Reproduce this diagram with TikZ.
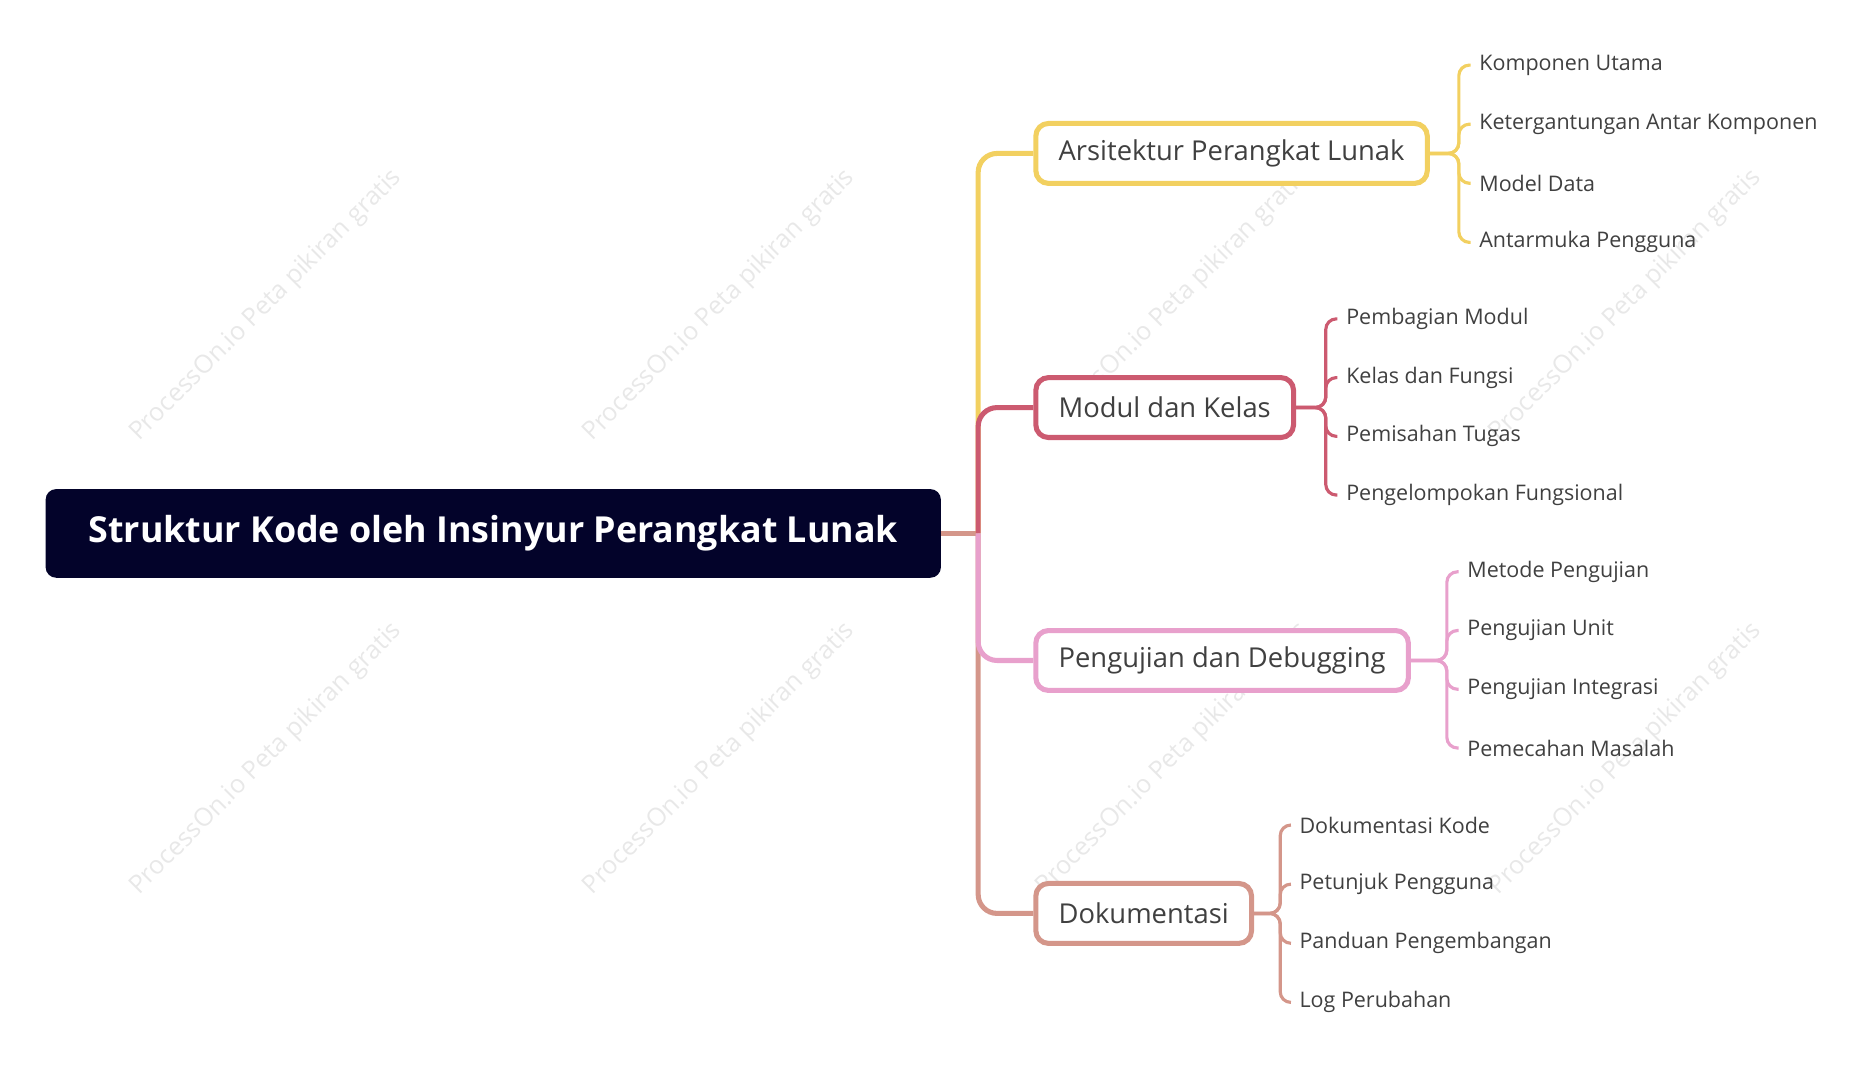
\documentclass[tikz,border=0pt]{standalone}
\usepackage{fontspec}
\setmainfont{Open Sans}
\usetikzlibrary{positioning}
\definecolor{rootbg}{HTML}{03032A}
\definecolor{cyel}{HTML}{F2D060}
\definecolor{cred}{HTML}{CC5A70}
\definecolor{cpink}{HTML}{E8A0CC}
\definecolor{csal}{HTML}{D4968A}
\begin{document}
\begin{tikzpicture}[x=0.02cm, y=-0.02cm]
        % ================= styles =================
        \tikzset{
            % root node
            rootnode/.style={rectangle, rounded corners=5pt, fill=rootbg, text=white, font=\bfseries\fontsize{17}{20}\selectfont, minimum width=14.94cm, minimum height=1.48cm, inner sep=0pt},
            % branch box
            branchnode/.style={rectangle, rounded corners=6pt, draw=#1, line width=2.4pt, fill=white, text=black!75, font=\fontsize{13}{15}\selectfont, minimum height=1cm, inner xsep=0.38cm, inner ysep=0pt, anchor=west},
            % leaf text
            leafnode/.style={inner sep=1pt, anchor=west, text=black!75, font=\fontsize{10.2}{12}\selectfont},
            % connectors
            trunk/.style={line width=2.4pt, rounded corners=9pt, #1},
            twig/.style={line width=1.5pt, rounded corners=5pt, #1},
            wmark/.style={rotate=45, text=black!9, font=\fontsize{12}{14}\selectfont}
        }
        \useasboundingbox (0,0) rectangle (1560,898);

        % ================= watermark =================
        \foreach \wx in {222,600,978,1356} {
            \foreach \wy in {255,633} {
                \node[wmark] at (\wx,\wy) {ProcessOn.io Peta pikiran gratis};
            }
        }

        % ================= root =================
        \node[rootnode] (root) at (411.5,445) {Struktur Kode oleh Insinyur Perangkat Lunak};
        \coordinate (hub) at (816,445);

        % ================= branches =================
        \node[branchnode=cyel] (arch) at (862,128) {Arsitektur Perangkat Lunak};
        \node[branchnode=cred] (modul) at (862,340) {Modul dan Kelas};
        \node[branchnode=cpink] (uji) at (862,551) {Pengujian dan Debugging};
        \node[branchnode=csal] (doku) at (862,762) {Dokumentasi};

        \draw[trunk=csal] (root.east) -- (hub);
        \draw[trunk=cyel] (hub) |- (arch.west);
        \draw[trunk=cred] (hub) |- (modul.west);
        \draw[trunk=csal] (hub) |- (doku.west);
        \draw[trunk=cpink] (hub) |- (uji.west);

        % ================= leaves =================
        \coordinate (j1) at (1217,128);
        \coordinate (j2) at (1106,340);
        \coordinate (j3) at (1207,551);
        \coordinate (j4) at (1068,762);

        \foreach \txt [count=\k] in {Komponen Utama, Ketergantungan Antar Komponen, Model Data, Antarmuka Pengguna} {
            \node[leafnode] (a\k) at (1232,5+49.3*\k) {\txt};
            \draw[twig=cyel] (arch.east) -- (j1) |- ([xshift=-3pt]a\k.west);
        }
        \foreach \txt [count=\k] in {Pembagian Modul, Kelas dan Fungsi, Pemisahan Tugas, Pengelompokan Fungsional} {
            \node[leafnode] (m\k) at (1121,217+49*\k) {\txt};
            \draw[twig=cred] (modul.east) -- (j2) |- ([xshift=-3pt]m\k.west);
        }
        \foreach \txt [count=\k] in {Metode Pengujian, Pengujian Unit, Pengujian Integrasi, Pemecahan Masalah} {
            \node[leafnode] (p\k) at (1222,428+49*\k) {\txt};
            \draw[twig=cpink] (uji.east) -- (j3) |- ([xshift=-3pt]p\k.west);
        }
        \foreach \txt [count=\k] in {Dokumentasi Kode, Petunjuk Pengguna, Panduan Pengembangan, Log Perubahan} {
            \node[leafnode] (d\k) at (1082,639+49.3*\k) {\txt};
            \draw[twig=csal] (doku.east) -- (j4) |- ([xshift=-3pt]d\k.west);
        }

    \end{tikzpicture}
\end{document}
